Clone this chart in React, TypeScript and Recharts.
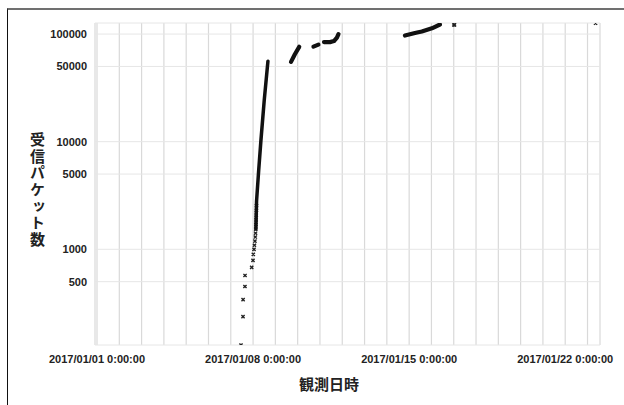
import { ScatterChart, Scatter, XAxis, YAxis, CartesianGrid } from "recharts";

type Pt = [string, number];

// sparse single markers at the start of the rise (2017/01/07 - 01/08)
const startPoints: Pt[] = [
  ["2017-01-07T11:00", 129],
  ["2017-01-07T13:10", 237],
  ["2017-01-07T13:15", 341],
  ["2017-01-07T15:15", 451],
  ["2017-01-07T15:20", 571],
  ["2017-01-07T22:30", 679],
  ["2017-01-07T23:55", 789],
  ["2017-01-08T00:15", 898],
  ["2017-01-08T01:00", 1000],
  ["2017-01-08T01:25", 1090],
  ["2017-01-08T02:00", 1190],
  ["2017-01-08T02:25", 1300],
  ["2017-01-08T02:40", 1410],
  ["2017-01-08T02:55", 1540],
  ["2017-01-08T03:05", 1700],
  ["2017-01-08T03:15", 1880],
  ["2017-01-08T03:25", 2080],
  ["2017-01-08T03:35", 2300],
  ["2017-01-08T03:40", 2550],
];

// dense runs of points, drawn as thick strokes
const riseRun: Pt[] = [
  ["2017-01-08T03:00", 1540],
  ["2017-01-08T03:45", 2810],
  ["2017-01-08T06:00", 5360],
  ["2017-01-08T08:25", 10200],
  ["2017-01-08T12:00", 24200],
  ["2017-01-08T16:00", 56000],
];
const run09: Pt[] = [
  ["2017-01-09T16:50", 55200],
  ["2017-01-09T21:00", 65000],
  ["2017-01-10T01:40", 76100],
];
const run10: Pt[] = [
  ["2017-01-10T17:00", 76400],
  ["2017-01-10T22:20", 79800],
];
const run11: Pt[] = [
  ["2017-01-11T04:20", 84200],
  ["2017-01-11T10:45", 84200],
  ["2017-01-11T15:05", 86100],
  ["2017-01-11T18:15", 92800],
  ["2017-01-11T19:55", 100000],
];
const run15: Pt[] = [
  ["2017-01-14T19:30", 96800],
  ["2017-01-15T06:15", 102200],
  ["2017-01-15T13:40", 105500],
  ["2017-01-16T00:30", 113000],
  ["2017-01-16T09:05", 122700],
];
const latePoints: Pt[] = [
  ["2017-01-17T00:10", 121400],
  ["2017-01-17T00:50", 121800],
  ["2017-01-23T08:40", 126000],
];

const xTickDates = ["2017-01-01", "2017-01-08", "2017-01-15", "2017-01-22"];
const xTickLabels = ["2017/01/01 0:00:00", "2017/01/08 0:00:00", "2017/01/15 0:00:00", "2017/01/22 0:00:00"];
const yTicks = [500, 1000, 5000, 10000, 50000, 100000];
const yTitle = "受信パケット数";
const xTitle = "観測日時";

const DAY = 86400000;
const T0 = Date.parse("2017-01-01T00:00:00Z");
const xDomain = [T0 - 0.09 * DAY, T0 + 22.56 * DAY];
const dayTicks = Array.from({ length: 23 }, (_, i) => T0 + i * DAY);
const labeledTimes = xTickDates.map((d) => Date.parse(d + "T00:00:00Z"));

const rows = (pts: Pt[]) => pts.map(([d, v]) => ({ t: Date.parse(d + ":00Z"), v }));

const Cross = (props: any) => {
  const { cx, cy } = props;
  if (cx == null || cy == null) return null;
  const r = 1.6;
  return (
    <path
      d={`M${cx - r},${cy - r}L${cx + r},${cy + r}M${cx + r},${cy - r}L${cx - r},${cy + r}`}
      stroke="#222"
      strokeWidth={1.4}
    />
  );
};

const NoDot = () => null;

const numFont = "'Liberation Sans', Arial, sans-serif";
const jpFont = "'Noto Sans CJK JP', sans-serif";

export default function App() {
  const runs = [riseRun, run09, run10, run11, run15];
  return (
    <div style={{ position: "fixed", left: 0, top: 0, width: 624, height: 405, background: "#fff", overflow: "hidden" }}>
      <div
        style={{
          position: "absolute",
          left: 7,
          top: 8,
          right: 0,
          bottom: 0,
          borderTop: "2px solid #707070",
          borderLeft: "1px solid #111",
        }}
      />
      <div style={{ position: "absolute", left: 0, top: 0 }}>
        <ScatterChart width={624} height={405} margin={{ top: 23, right: 24, bottom: 0, left: 0 }}>
          <CartesianGrid horizontal={false} stroke="#d9d9d9" strokeWidth={1.2} />
          <CartesianGrid vertical={false} stroke="#e6e6e6" />
          <XAxis
            type="number"
            dataKey="t"
            domain={xDomain}
            ticks={dayTicks}
            allowDataOverflow
            interval={0}
            height={60}
            tickLine={false}
            axisLine={false}
            tickMargin={4}
            tick={{ fontSize: 11, fontWeight: "bold", fill: "#222", fontFamily: numFont }}
            tickFormatter={(t: number) => {
              const i = labeledTimes.indexOf(t);
              return i >= 0 ? xTickLabels[i] : "";
            }}
          />
          <YAxis
            type="number"
            dataKey="v"
            scale="log"
            domain={[129, 126700]}
            ticks={yTicks}
            allowDataOverflow
            interval={0}
            width={95}
            tickLine={false}
            axisLine={false}
            tick={{ fontSize: 11, fontWeight: "bold", fill: "#222", fontFamily: numFont }}
          />
          <Scatter data={rows(startPoints)} shape={Cross} isAnimationActive={false} />
          {runs.map((r, i) => (
            <Scatter
              key={i}
              data={rows(r)}
              shape={NoDot}
              line={{ stroke: "#111", strokeWidth: i === 0 ? 3.5 : 4.2, strokeLinecap: "round", strokeLinejoin: "round" }}
              isAnimationActive={false}
            />
          ))}
          <Scatter data={rows(latePoints)} shape={Cross} isAnimationActive={false} />
        </ScatterChart>
      </div>
      <div
        style={{
          position: "absolute",
          left: 28,
          top: 132,
          writingMode: "vertical-rl",
          textOrientation: "upright",
          letterSpacing: 1.6,
          fontFamily: jpFont,
          fontWeight: "bold",
          fontSize: 15,
          lineHeight: "19px",
          color: "#222",
        }}
      >
        {yTitle}
      </div>
      <div
        style={{
          position: "absolute",
          left: 299,
          top: 373,
          fontFamily: jpFont,
          fontWeight: "bold",
          fontSize: 15,
          color: "#222",
          whiteSpace: "nowrap",
        }}
      >
        {xTitle}
      </div>
    </div>
  );
}
